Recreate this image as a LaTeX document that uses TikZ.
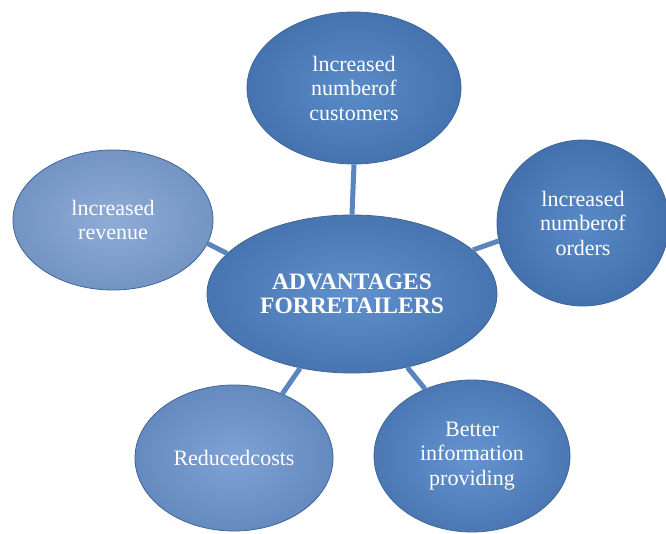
\documentclass[tikz,border=0pt]{standalone}
\usepackage{fontspec}
\setmainfont{Liberation Serif}
\usetikzlibrary{shapes.geometric}
\definecolor{linkblue}{HTML}{5A85BE}
\definecolor{rimblue}{HTML}{3F6699}
\definecolor{topin}{HTML}{5A8BC8}   \definecolor{topout}{HTML}{4573AF}
\definecolor{leftin}{HTML}{8FACD6}  \definecolor{leftout}{HTML}{7394C4}
\definecolor{rightin}{HTML}{588AC7} \definecolor{rightout}{HTML}{4471AD}
\definecolor{blin}{HTML}{7FA2D4}    \definecolor{blout}{HTML}{648ABF}
\definecolor{brin}{HTML}{6494D0}    \definecolor{brout}{HTML}{4B78B3}
\definecolor{cin}{HTML}{6090CD}     \definecolor{cout}{HTML}{4775B0}
\tikzset{
  outline/.style={ellipse, inner sep=0pt},
  bubble/.style 2 args={outline, align=center,
    text=white, draw=rimblue, line width=0.8pt,
    inner color=#1, outer color=#2,
    font=\fontsize{22}{24.5}\selectfont},
  link/.style={draw=linkblue, line width=5pt}
}
\begin{document}
\begin{tikzpicture}[x=1pt,y=-1pt]
  \useasboundingbox (0,0) rectangle (666,534);
  \fill[white] (0,0) rectangle (666,534);

  % the six bubbles
  \node[bubble={topin}{topout}, minimum width=214, minimum height=152] (top) at (354,88)
    {lncreased\\numberof\\customers};
  \node[bubble={leftin}{leftout}, minimum width=200, minimum height=140] (left) at (113,220)
    {lncreased\\revenue};
  \node[bubble={rightin}{rightout}, minimum width=172, minimum height=166] (right) at (583,223)
    {lncreased\\numberof\\orders};
  \node[bubble={blin}{blout}, minimum width=198, minimum height=146] (bleft) at (234,458)
    {Reducedcosts};
  \node[bubble={brin}{brout}, minimum width=196, minimum height=152] (bright) at (472,456)
    {Better\\information\\providing};
  \node[bubble={cin}{cout}, minimum width=290, minimum height=158,
        font=\fontsize{23.5}{24}\selectfont\bfseries] (center) at (352,294)
    {ADVANTAGES\\FORRETAILERS};

  % spokes from the hub to each bubble, border to border
  \draw[link] (center.90)  -- (top.270);
  \draw[link] (center.162) -- (left.346);
  \draw[link] (center.20)  -- (right.192);
  \draw[link] (center.235) -- (bleft.53);
  \draw[link] (center.307) -- (bright.125);
\end{tikzpicture}
\end{document}
